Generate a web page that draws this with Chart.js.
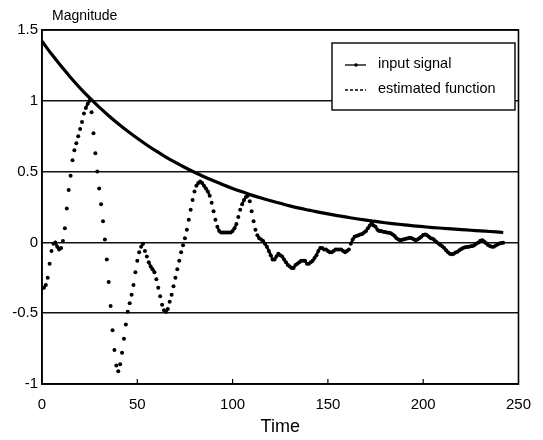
<!DOCTYPE html>
<html>
<head>
<meta charset="utf-8">
<script src="https://cdn.jsdelivr.net/npm/chart.js@4.4.1/dist/chart.umd.min.js"></script>
<style>
  html, body { margin: 0; padding: 0; background: #fff; }
  #wrap { width: 543px; height: 440px; }
</style>
</head>
<body>
<div id="wrap"><canvas id="chart" width="543" height="440"></canvas></div>
<script>
// 输入信号 (每 5 个时间单位读一次)
const inputTimes = [0, 5, 10, 15, 20, 25, 30, 35, 40, 45, 50, 55, 60, 65, 70, 75, 80, 85, 90, 95,
    100, 105, 110, 115, 120, 125, 130, 135, 140, 145, 150, 155, 160, 165, 170, 175, 180, 185, 190, 195,
    200, 205, 210, 215, 220, 225, 230, 235, 240, 242];
const inputSignal = [1.42, 1.33, 1.245, 1.165, 1.09, 1.02, 0.955, 0.895, 0.838, 0.785, 0.735, 0.688, 0.644, 0.603, 0.565, 0.529, 0.495, 0.464, 0.435, 0.407,
    0.381, 0.357, 0.334, 0.313, 0.294, 0.276, 0.258, 0.242, 0.228, 0.214, 0.201, 0.189, 0.178, 0.167, 0.157, 0.148, 0.139, 0.131, 0.124, 0.117,
    0.111, 0.105, 0.1, 0.095, 0.09, 0.086, 0.081, 0.077, 0.072, 0.07];

// 估计函数 (每个时间单位一个采样, 从 t = 0 开始)
const estimatedFunction = [
    -0.32, -0.32, -0.30, -0.25, -0.15, -0.06, -0.01, 0.00, -0.03, -0.05,
    -0.04, 0.01, 0.10, 0.24, 0.37, 0.47, 0.58, 0.65, 0.70, 0.75,
    0.80, 0.85, 0.91, 0.95, 0.98, 1.00, 0.92, 0.77, 0.63, 0.50,
    0.38, 0.27, 0.15, 0.02, -0.12, -0.28, -0.45, -0.62, -0.76, -0.87,
    -0.91, -0.86, -0.78, -0.68, -0.58, -0.49, -0.43, -0.37, -0.30, -0.21,
    -0.13, -0.07, -0.03, -0.01, -0.06, -0.10, -0.14, -0.17, -0.19, -0.21,
    -0.26, -0.32, -0.38, -0.44, -0.48, -0.49, -0.47, -0.42, -0.37, -0.31,
    -0.25, -0.19, -0.13, -0.07, -0.02, 0.03, 0.09, 0.16, 0.23, 0.30,
    0.36, 0.40, 0.42, 0.43, 0.42, 0.40, 0.38, 0.36, 0.33, 0.28,
    0.22, 0.16, 0.11, 0.08, 0.07, 0.07, 0.07, 0.07, 0.07, 0.07,
    0.08, 0.10, 0.13, 0.18, 0.23, 0.27, 0.30, 0.32, 0.33, 0.29,
    0.22, 0.15, 0.09, 0.05, 0.03, 0.02, 0.01, -0.01, -0.03, -0.06,
    -0.09, -0.12, -0.12, -0.10, -0.08, -0.09, -0.10, -0.12, -0.14, -0.16,
    -0.17, -0.18, -0.18, -0.16, -0.15, -0.14, -0.13, -0.13, -0.13, -0.15,
    -0.15, -0.14, -0.13, -0.11, -0.09, -0.06, -0.04, -0.04, -0.05, -0.05,
    -0.06, -0.07, -0.07, -0.06, -0.05, -0.05, -0.05, -0.05, -0.06, -0.07,
    -0.06, -0.05, -0.01, 0.02, 0.04, 0.045, 0.05, 0.055, 0.06, 0.07,
    0.08, 0.10, 0.12, 0.14, 0.12, 0.11, 0.09, 0.08, 0.08, 0.075,
    0.073, 0.07, 0.068, 0.065, 0.055, 0.045, 0.03, 0.02, 0.016, 0.018,
    0.022, 0.026, 0.03, 0.033, 0.03, 0.022, 0.016, 0.02, 0.03, 0.04,
    0.052, 0.056, 0.05, 0.04, 0.03, 0.025, 0.015, 0.003, -0.008, -0.018,
    -0.028, -0.04, -0.055, -0.07, -0.08, -0.084, -0.08, -0.072, -0.066, -0.055,
    -0.046, -0.04, -0.035, -0.033, -0.03, -0.028, -0.026, -0.018, -0.008, 0.0,
    0.012, 0.016, 0.006, -0.006, -0.018, -0.026, -0.03, -0.03, -0.022, -0.014,
    -0.008, -0.004, -0.002
];

const xTicks = [0, 50, 100, 150, 200, 250];
const yTickLabels = ['-1', '-0.5', '0', '0.5', '1', '1.5'];
const seriesNames = ['input signal', 'estimated function'];

const FONT = '"Liberation Sans", Arial, Helvetica, sans-serif';

// 坐标框、底部内刻度、Magnitude 标题、图例
const framePlugin = {
    id: 'frame',
    afterDraw(chart) {
        const { ctx, chartArea: a, scales } = chart;
        ctx.save();
        ctx.strokeStyle = '#000';
        ctx.lineWidth = 1.6;
        ctx.strokeRect(a.left, a.top, a.right - a.left, a.bottom - a.top);

        // 底部内刻度
        ctx.lineWidth = 1.2;
        xTicks.slice(1, -1).forEach(t => {
            const x = scales.x.getPixelForValue(t);
            ctx.beginPath();
            ctx.moveTo(x, a.bottom);
            ctx.lineTo(x, a.bottom - 5);
            ctx.stroke();
        });

        ctx.fillStyle = '#000';
        ctx.font = '14px ' + FONT;
        ctx.textAlign = 'left';
        ctx.textBaseline = 'middle';
        ctx.fillText('Magnitude', a.left + 10, 16);

        // 图例
        const bx = 332, by = 43, bw = 183, bh = 67;
        ctx.fillStyle = '#fff';
        ctx.fillRect(bx, by, bw, bh);
        ctx.lineWidth = 1.4;
        ctx.strokeRect(bx, by, bw, bh);

        ctx.lineWidth = 1.3;
        ctx.beginPath();
        ctx.moveTo(345, 65);
        ctx.lineTo(366, 65);
        ctx.stroke();
        ctx.fillStyle = '#000';
        ctx.beginPath();
        ctx.arc(356, 65, 1.8, 0, Math.PI * 2);
        ctx.fill();

        ctx.setLineDash([3, 2]);
        ctx.beginPath();
        ctx.moveTo(345, 90);
        ctx.lineTo(366, 90);
        ctx.stroke();
        ctx.setLineDash([]);

        ctx.font = '14.5px ' + FONT;
        ctx.fillText(seriesNames[0], 378, 64);
        ctx.fillText(seriesNames[1], 378, 89);
        ctx.restore();
    }
};

function segLength(c) {
    const dx = c.p1.x - c.p0.x, dy = c.p1.y - c.p0.y;
    return Math.sqrt(dx * dx + dy * dy);
}

const ctx = document.getElementById('chart').getContext('2d');
new Chart(ctx, {
    type: 'line',
    data: {
        datasets: [{
            label: seriesNames[0],
            data: inputTimes.map((t, i) => ({ x: t, y: inputSignal[i] })),
            borderColor: '#000',
            borderWidth: 3.2,
            pointRadius: 0,
            cubicInterpolationMode: 'monotone',
            fill: false
        }, {
            label: seriesNames[1],
            data: estimatedFunction.map((v, i) => ({ x: i, y: v })),
            borderColor: '#000',
            borderWidth: 2.6,
            pointRadius: 2,
            pointBorderWidth: 0,
            pointBackgroundColor: '#000',
            tension: 0,
            fill: false,
            segment: {
                borderColor: c => segLength(c) > 5 ? 'rgba(0,0,0,0)' : '#000'
            }
        }]
    },
    options: {
        responsive: false,
        animation: false,
        events: [],
        layout: { padding: { top: 30, right: 12, left: 0, bottom: 0 } },
        plugins: {
            legend: { display: false },
            tooltip: { enabled: false }
        },
        scales: {
            x: {
                type: 'linear',
                min: 0,
                max: 250,
                afterFit(scale) { scale.height = 56; },
                afterBuildTicks(scale) { scale.ticks = xTicks.map(v => ({ value: v })); },
                grid: { display: false, drawTicks: false },
                border: { display: true, color: '#000', width: 1.6 },
                ticks: {
                    color: '#000',
                    padding: 12,
                    maxRotation: 0,
                    font: { family: FONT, size: 15 }
                },
                title: {
                    display: true,
                    text: 'Time',
                    color: '#000',
                    padding: { top: 0, bottom: 2 },
                    font: { family: FONT, size: 18 }
                }
            },
            y: {
                min: -1,
                max: 1.5,
                afterFit(scale) { scale.width = 42; },
                afterBuildTicks(scale) {
                    scale.ticks = yTickLabels.map(s => ({ value: parseFloat(s) }));
                },
                grid: { color: '#111', lineWidth: 1.5, drawTicks: false },
                border: { display: true, color: '#000', width: 1.6 },
                ticks: {
                    color: '#000',
                    padding: 4,
                    font: { family: FONT, size: 15 },
                    callback: (v, i) => yTickLabels[i]
                }
            }
        }
    },
    plugins: [framePlugin]
});
</script>
</body>
</html>
